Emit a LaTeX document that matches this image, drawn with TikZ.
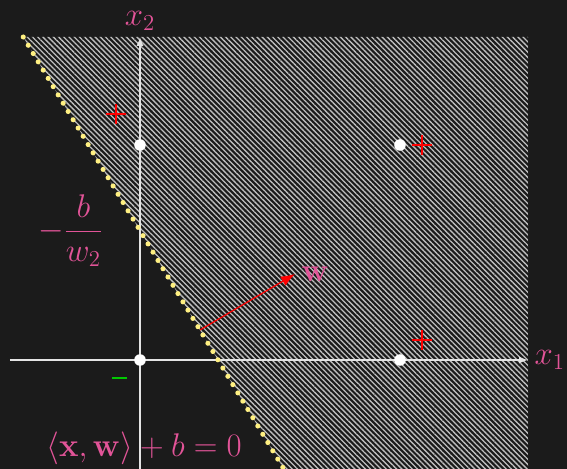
\documentclass[tikz,border=0pt]{standalone}
\usepackage{xcolor}
\usepackage{amsmath}
\usepackage{amssymb}
\usepackage{tikz}
\usetikzlibrary{arrows.meta, positioning, calc, patterns.meta}

\definecolor{bgdark}{RGB}{27,27,27}
\definecolor{labelpink}{RGB}{226,84,152}
\definecolor{dotyellow}{RGB}{255,240,130}
\definecolor{axisgrey}{RGB}{228,228,228}
\definecolor{hatchgrey}{RGB}{190,190,190}
\definecolor{minusgreen}{RGB}{0,200,0}

\begin{document}
\begin{tikzpicture}[
    font=\LARGE,
    axis line/.style={draw=axisgrey, line width=0.9pt, -{Latex[length=5pt,width=4pt]}},
    axis label/.style={text=labelpink, scale=1.08},
    sample/.style={circle, fill=white, inner sep=0pt, minimum size=6.6pt},
    boundary/.style={draw=dotyellow, line width=2.9pt, line cap=round, dash pattern=on 0pt off 5.5pt},
    halfspace/.style={pattern={Lines[angle=-45, distance=2.1pt, line width=0.75pt]}, pattern color=hatchgrey},
    normal arrow/.style={draw=red, line width=0.7pt, -{Latex[length=8pt,width=6pt]}},
    pluscross/.style={draw=red, line width=1.1pt},
    minusbar/.style={draw=minusgreen, line width=1.2pt}
]
% background and frame
\useasboundingbox (-2.8,-2.18) rectangle (8.54,7.2);
\fill[bgdark] (-2.8,-2.18) rectangle (8.54,7.2);

% positive half-space
\fill[halfspace] (-2.335,6.46) -- (7.76,6.46) -- (7.76,-2.18) -- (2.875,-2.18) -- cycle;

% axes
\coordinate (xstart) at (-2.6,0);
\coordinate (xend) at (7.76,0);
\coordinate (ystart) at (0,-2.18);
\coordinate (yend) at (0,6.46);
\draw[axis line] (xstart) -- (xend);
\draw[axis line] (ystart) -- (yend);
\node[axis label, right=0pt of xend] (xlabel) {$x_1$};
\node[axis label, above=0pt of yend] (ylabel) {$x_2$};

% decision boundary
\coordinate (btop) at (-2.335,6.46);
\coordinate (bbottom) at (2.875,-2.18);
\draw[boundary] (btop) -- (bbottom);
\coordinate (icept) at (0,2.587);
\node[axis label, left=0.6cm of icept] (intercept) {$-\dfrac{b}{w_2}$};
\node[axis label] (hyperplane) at (0.08,-1.76) {$\langle \mathbf{x}, \mathbf{w}\rangle + b = 0$};

% normal vector
\coordinate (wbase) at (1.2,0.6);
\coordinate (wtip) at (3.1,1.72);
\draw[normal arrow] (wbase) -- (wtip);
\node[axis label, right=0pt of wtip] (wlabel) {$\mathbf{w}$};

% samples
\node[sample] (s00) at (0,0) {};
\node[sample] (s01) at (0,4.3) {};
\node[sample] (s11) at (5.2,4.3) {};
\node[sample] (s10) at (5.2,0) {};

% class marks
\foreach \px/\py in {-0.48/4.92, 5.64/4.3, 5.64/0.4}
    \draw[pluscross] (\px-0.2,\py) -- (\px+0.2,\py) (\px,\py-0.2) -- (\px,\py+0.2);
\draw[minusbar] (-0.55,-0.36) -- (-0.25,-0.36);
\end{tikzpicture}
\end{document}
